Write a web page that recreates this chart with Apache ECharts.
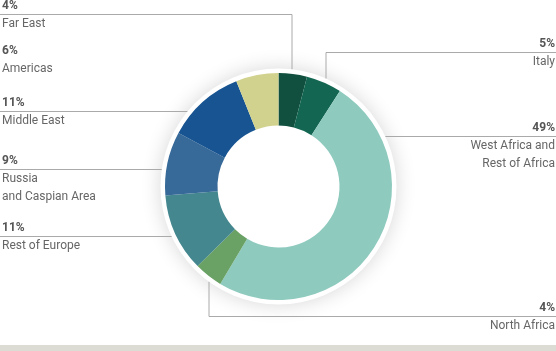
<!DOCTYPE html>
<html>
<head>
<meta charset="utf-8">
<script src="https://cdn.jsdelivr.net/npm/echarts@6/dist/echarts.min.js"></script>
<style>
html,body{margin:0;padding:0;background:#fff;}
#chart{width:556px;height:351px;}
</style>
</head>
<body>
<div id="chart"></div>
<script>
// ---- data ----
var categories = ['Far East', 'Italy', 'West Africa and\nRest of Africa', 'North Africa', 'Rest of Europe', 'Russia\nand Caspian Area', 'Middle East', 'Americas'];
var shares = [4, 5, 49, 4, 11, 9, 11, 6];
var colors = ['#11503f', '#136752', '#8ecabe', '#6aa165', '#44878f', '#376a99', '#175491', '#d2d28f'];

// ---- layout (label placement) ----
var CX = 278.5, CY = 186.5, R_OUT = 113.5, R_IN = 61, R_RING = 118;
var labelPos = [
  { side: 'left',  top: -4,  elbow: 292 },
  { side: 'right', top: 34,  elbow: 326 },
  { side: 'right', top: 118 },
  { side: 'right', top: 298, elbow: 209 },
  { side: 'left',  top: 218 },
  { side: 'left',  top: 151 },
  { side: 'left',  top: 93 },
  { side: 'left',  top: 41 }
];
var W = 556;

var chart = echarts.init(document.getElementById('chart'), null, { renderer: 'canvas' });

var data = categories.map(function (c, i) {
  return { name: c, value: shares[i], itemStyle: { color: colors[i] } };
});

var FONT = 'Roboto, "Noto Sans", sans-serif';

chart.setOption({
  animation: false,
  backgroundColor: '#fff',
  graphic: [
    { type: 'rect', shape: { x: 0, y: 345, width: W, height: 6 }, style: { fill: '#dcdcd5' }, silent: true }
  ],
  series: [
    {
      type: 'pie',
      center: [CX, CY],
      radius: [0, R_RING],
      silent: true,
      z: 1,
      label: { show: false },
      labelLine: { show: false },
      itemStyle: { color: '#fff', shadowBlur: 20, shadowColor: 'rgba(0,0,0,0.16)', shadowOffsetX: 0, shadowOffsetY: 0 },
      emphasis: { disabled: true },
      data: [{ value: 1, name: 'ring' }]
    },
    {
      type: 'pie',
      center: [CX, CY],
      radius: [R_IN, R_OUT],
      startAngle: 90,
      clockwise: true,
      z: 3,
      silent: true,
      avoidLabelOverlap: false,
      emphasis: { disabled: true },
      itemStyle: { borderWidth: 0 },
      label: {
        show: true,
        fontFamily: FONT,
        formatter: function (p) {
          var s = labelPos[p.dataIndex].side === 'left' ? 'l' : 'r';
          return '{p' + s + '|' + p.value + '%}\n{n' + s + '|' + p.name + '}';
        },
        rich: {
          pl: { fontFamily: FONT, fontSize: 12, fontWeight: 'bold', color: '#555', lineHeight: 19, align: 'left' },
          pr: { fontFamily: FONT, fontSize: 12, fontWeight: 'bold', color: '#555', lineHeight: 19, align: 'right' },
          nl: { fontFamily: FONT, fontSize: 12, color: '#666', lineHeight: 18, align: 'left' },
          nr: { fontFamily: FONT, fontSize: 12, color: '#666', lineHeight: 18, align: 'right' }
        }
      },
      labelLine: { show: true, lineStyle: { color: '#aaa', width: 1 }, smooth: false },
      labelLayout: function (params) {
        var L = labelPos[params.dataIndex];
        var lineY = L.top + 18.5;
        var pts;
        var endX = L.side === 'left' ? 0 : W;
        if (L.elbow != null) {
          var dx = L.elbow - CX;
          var dy = Math.sqrt(R_RING * R_RING - dx * dx);
          var ey = lineY < CY ? CY - dy : CY + dy;
          pts = [[L.elbow, ey], [L.elbow, lineY], [endX, lineY]];
        } else {
          var ddy = lineY - CY;
          var ddx = Math.sqrt(R_RING * R_RING - ddy * ddy);
          var ex = L.side === 'left' ? CX - ddx : CX + ddx;
          pts = [[ex, lineY], [endX, lineY]];
        }
        return {
          x: L.side === 'left' ? 2 : W - 1,
          y: L.top,
          align: L.side,
          verticalAlign: 'top',
          labelLinePoints: pts
        };
      },
      data: data
    }
  ]
});
</script>
</body>
</html>
